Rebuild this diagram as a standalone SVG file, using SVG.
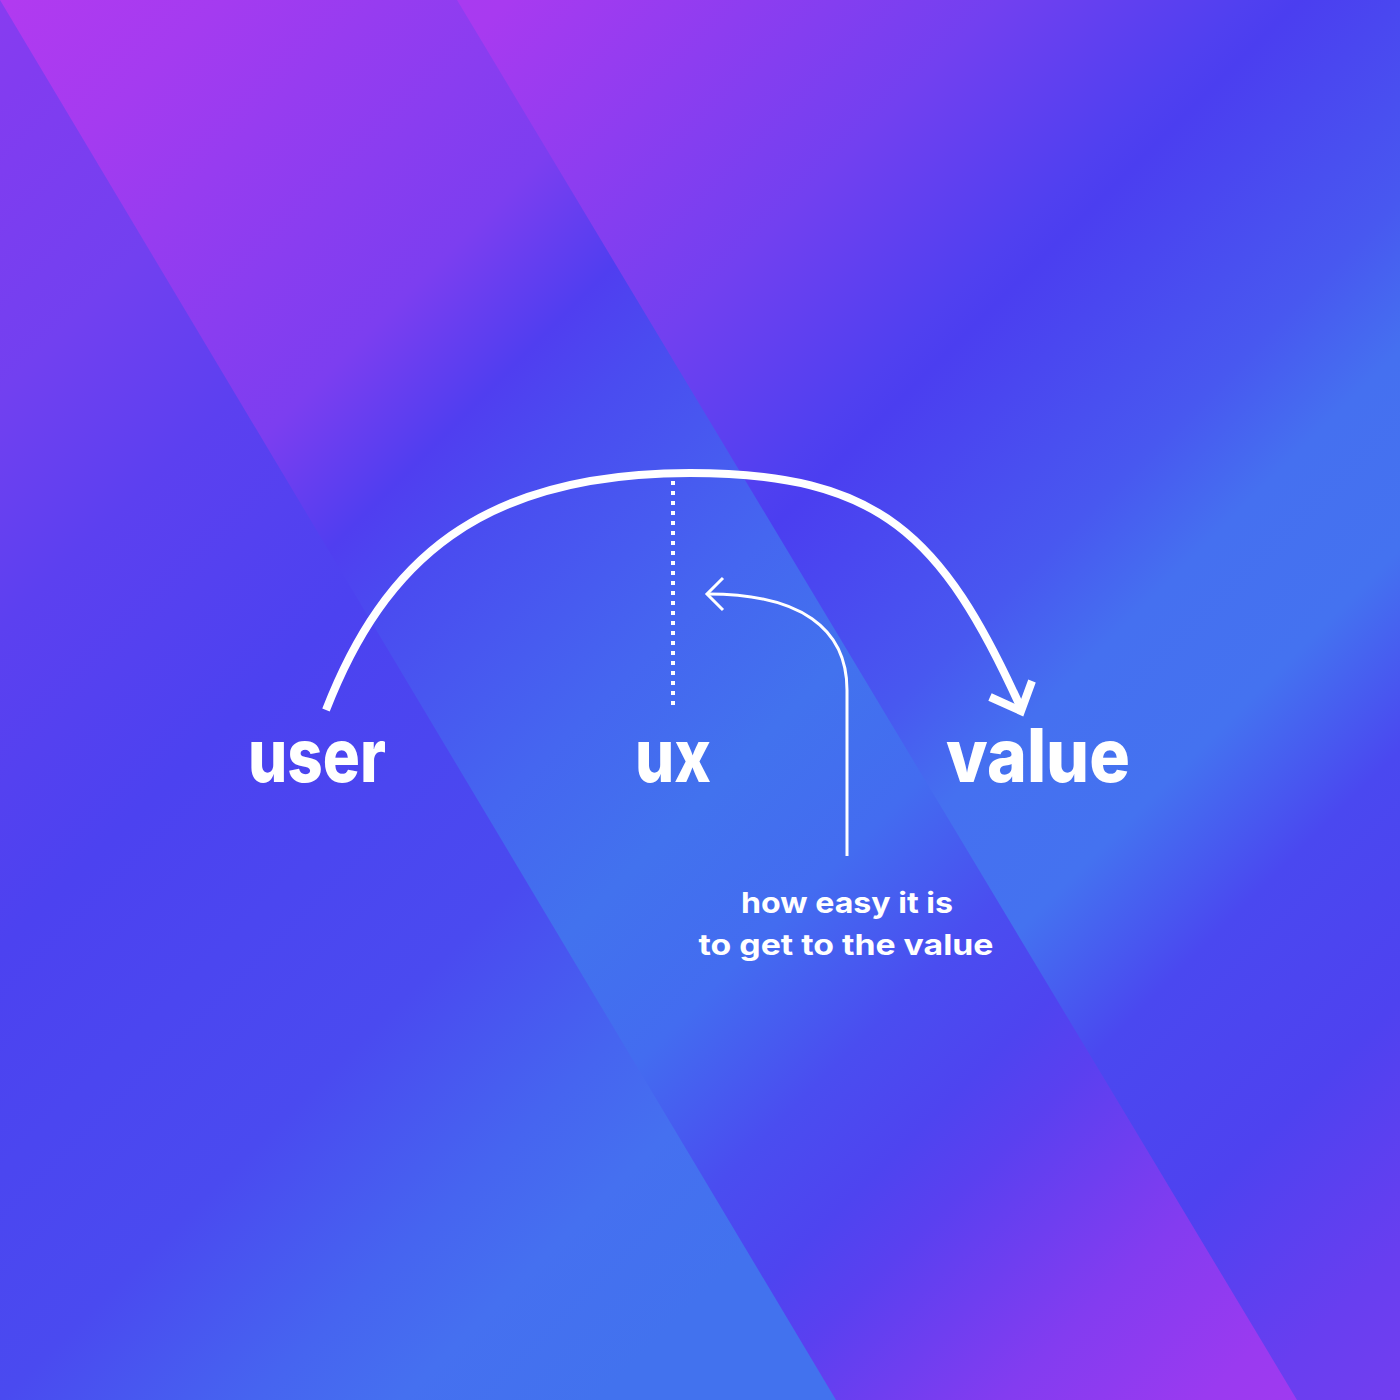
<svg xmlns="http://www.w3.org/2000/svg" width="1400" height="1400" viewBox="0 0 1400 1400">
  <defs>
    <linearGradient id="gLeft" gradientUnits="userSpaceOnUse" x1="0" y1="0" x2="1400" y2="1400">
      <stop offset="0" stop-color="#883cf0"/>
      <stop offset="0.036" stop-color="#823cf0"/>
      <stop offset="0.14" stop-color="#7240f0"/>
      <stop offset="0.225" stop-color="#5c40f0"/>
      <stop offset="0.339" stop-color="#4c42f0"/>
      <stop offset="0.5" stop-color="#4a4af0"/>
      <stop offset="0.589" stop-color="#4664f0"/>
      <stop offset="0.643" stop-color="#4570f0"/>
      <stop offset="0.714" stop-color="#4272ee"/>
      <stop offset="1" stop-color="#4272ee"/>
    </linearGradient>
    <linearGradient id="gMid" gradientUnits="userSpaceOnUse" x1="0" y1="0" x2="1400" y2="1400">
      <stop offset="0" stop-color="#b23af0"/>
      <stop offset="0.081" stop-color="#a43bf0"/>
      <stop offset="0.25" stop-color="#7c3ef0"/>
      <stop offset="0.314" stop-color="#503ef0"/>
      <stop offset="0.357" stop-color="#4a4cf0"/>
      <stop offset="0.464" stop-color="#4566f0"/>
      <stop offset="0.536" stop-color="#4272ee"/>
      <stop offset="0.607" stop-color="#436cf0"/>
      <stop offset="0.679" stop-color="#4a4df0"/>
      <stop offset="0.732" stop-color="#4e44f0"/>
      <stop offset="0.768" stop-color="#5a40f0"/>
      <stop offset="0.857" stop-color="#833cf0"/>
      <stop offset="0.929" stop-color="#9a3af0"/>
      <stop offset="1" stop-color="#a53af0"/>
    </linearGradient>
    <linearGradient id="gRight" gradientUnits="userSpaceOnUse" x1="0" y1="0" x2="1400" y2="1400">
      <stop offset="0" stop-color="#b23af0"/>
      <stop offset="0.182" stop-color="#a83af0"/>
      <stop offset="0.357" stop-color="#7240f0"/>
      <stop offset="0.446" stop-color="#5040f0"/>
      <stop offset="0.464" stop-color="#4b3ef0"/>
      <stop offset="0.571" stop-color="#4858f0"/>
      <stop offset="0.625" stop-color="#4570f0"/>
      <stop offset="0.696" stop-color="#4472f0"/>
      <stop offset="0.768" stop-color="#4a48f0"/>
      <stop offset="0.857" stop-color="#4e42f0"/>
      <stop offset="0.946" stop-color="#683ef0"/>
      <stop offset="1" stop-color="#723ef0"/>
    </linearGradient>
  </defs>
  <style>
    .big { font-family: Inter, "Liberation Sans", sans-serif; font-weight: 800; font-size: 74px; fill: #ffffff; }
    .small { font-family: Inter, "Liberation Sans", sans-serif; font-weight: 700; font-size: 29px; fill: #ffffff; }
    .line { fill: none; stroke: #ffffff; }
  </style>

  <g id="background">
    <rect x="0" y="0" width="1400" height="1400" fill="url(#gRight)"/>
    <polygon points="-10,-10 457,0 1297,1400 800,1410" fill="url(#gMid)"/>
    <polygon points="0,0 836,1400 0,1400" fill="url(#gLeft)"/>
  </g>

  <g id="connectors">
    <path class="line" d="M326,710 C384,561 480,473 690,473 C880,473 942,535 1020,706" stroke-width="8"/>
    <polyline class="line" points="990,697 1021,711 1032,681" stroke-width="8" stroke-linejoin="miter"/>
    <line class="line" x1="673" y1="481" x2="673" y2="710" stroke-width="4" stroke-dasharray="4 6"/>
    <path class="line" d="M847,856 V690 C847,628 800,594 708,594" stroke-width="3"/>
    <polyline class="line" points="723,578 707,594 723,610" stroke-width="3" stroke-linejoin="miter"/>
  </g>

  <g id="node-user">
    <text class="big" x="317" y="782" text-anchor="middle" textLength="138" lengthAdjust="spacingAndGlyphs">user</text>
  </g>
  <g id="node-ux">
    <text class="big" x="673" y="782" text-anchor="middle" textLength="76" lengthAdjust="spacingAndGlyphs">ux</text>
  </g>
  <g id="node-value">
    <text class="big" x="1038" y="782" text-anchor="middle" textLength="184" lengthAdjust="spacingAndGlyphs">value</text>
  </g>
  <g id="node-note">
    <text class="small" x="847" y="913" text-anchor="middle" textLength="212" lengthAdjust="spacingAndGlyphs">how easy it is</text>
    <text class="small" x="846" y="955" text-anchor="middle" textLength="295" lengthAdjust="spacingAndGlyphs">to get to the value</text>
  </g>
</svg>
